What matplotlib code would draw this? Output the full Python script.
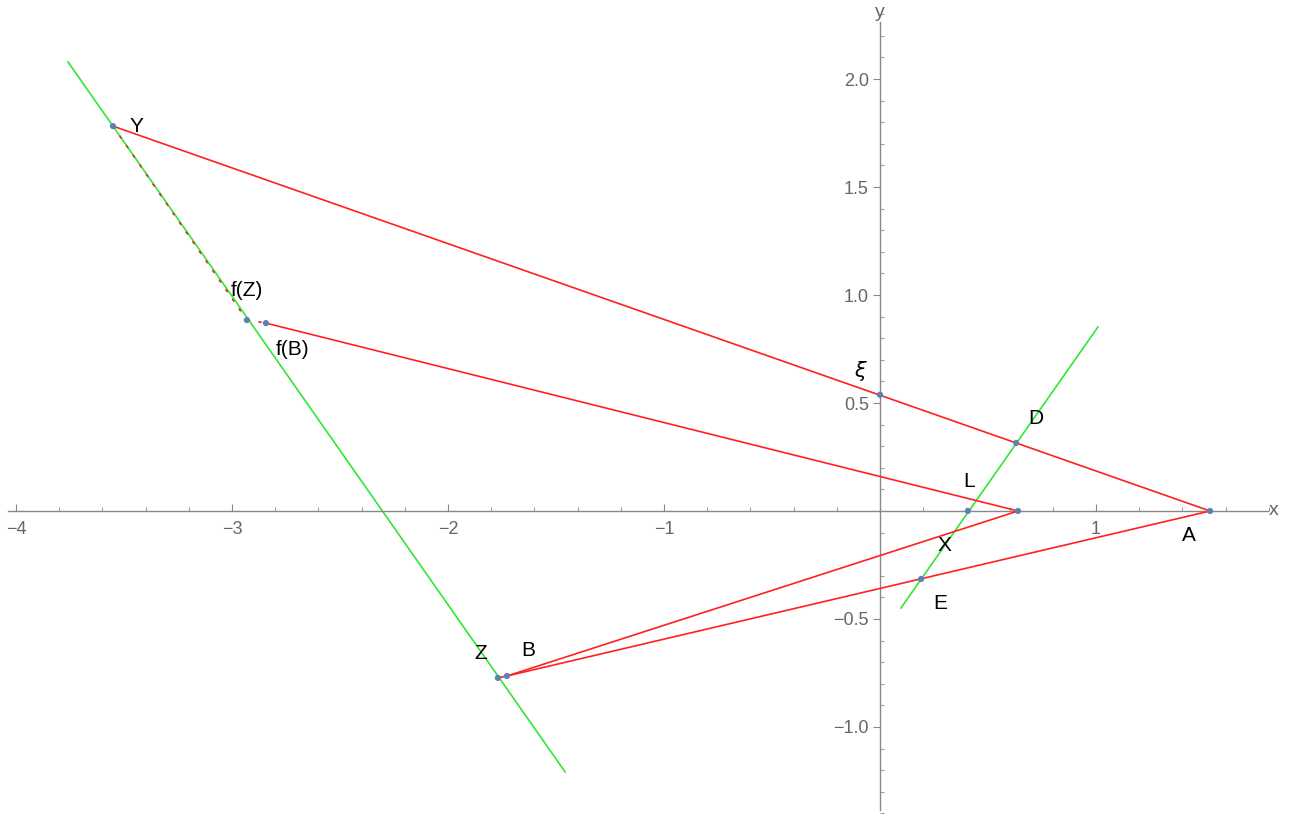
import numpy as np
import matplotlib.pyplot as plt
from matplotlib.ticker import MultipleLocator, FixedLocator

plt.rcParams['font.family'] = ['Liberation Sans', 'DejaVu Sans']

# points (data coordinates)
names = ["Y", "A", "B", "Z", "fZ", "fB", "P", "L", "D", "E", "xi"]
px = [-3.551, 1.528, -1.727, -1.769, -2.931, -2.843, 0.639, 0.407, 0.630, 0.190, 0.0]
py = [1.782, 0.0, -0.764, -0.773, 0.884, 0.870, 0.0, 0.0, 0.315, -0.315, 0.538]
pts = dict(zip(names, zip(px, py)))

# green lines (end points)
green1_x = [-3.759, -1.458]
green1_y = [2.079, -1.208]
green2_x = [0.097, 1.009]
green2_y = [-0.449, 0.852]

# red segments
red_segments = [("Y", "A"), ("A", "B"), ("B", "P"), ("P", "fB"), ("Z", "B")]
red_dashed = [("Y", "fZ"), ("fZ", "fB")]

# labels: text, x, y
label_text = ["Y", "f(Z)", "f(B)", r"$\xi$", "D", "L", "X", "A", "E", "Z", "B"]
label_x = [-3.44, -2.93, -2.72, -0.09, 0.72, 0.41, 0.30, 1.43, 0.28, -1.85, -1.63]
label_y = [1.78, 1.02, 0.75, 0.65, 0.43, 0.135, -0.16, -0.115, -0.43, -0.66, -0.645]

xticks_major = [-4, -3, -2, -1, 1]
yticks_major = [-1.0, -0.5, 0.5, 1.0, 1.5, 2.0]

fig = plt.figure(figsize=(13.01, 8.14), dpi=100)
ax = fig.add_axes([0, 0, 1, 1])
ax.set_xlim(-4.074, 1.949)
ax.set_ylim(-1.403, 2.366)

# axes through origin
for s in ["top", "right"]:
    ax.spines[s].set_visible(False)
ax.spines["left"].set_position(("data", 0))
ax.spines["bottom"].set_position(("data", 0))
ax.spines["bottom"].set_bounds(-4.037, 1.796)
ax.spines["left"].set_bounds(-1.384, 2.264)
for s in ["left", "bottom"]:
    ax.spines[s].set_color("#888888")
    ax.spines[s].set_linewidth(1.0)
ax.patch.set_alpha(0)

ax.xaxis.set_major_locator(FixedLocator(xticks_major))
ax.xaxis.set_minor_locator(MultipleLocator(0.2))
ax.yaxis.set_major_locator(FixedLocator(yticks_major))
ax.yaxis.set_minor_locator(MultipleLocator(0.1))
ax.set_xticklabels([f"\u2212{abs(v)}" if v < 0 else str(v) for v in xticks_major])
ax.set_yticklabels([f"\u2212{abs(v):.1f}" if v < 0 else f"{v:.1f}" for v in yticks_major])
ax.tick_params(axis="x", which="major", direction="in", length=5, width=0.8, color="#888888",
               labelsize=13, labelcolor="#666666", pad=7)
ax.tick_params(axis="x", which="minor", direction="in", length=3, width=0.6, color="#888888")
ax.tick_params(axis="y", which="major", direction="out", length=5, width=0.8, color="#888888",
               labelsize=13, labelcolor="#666666", pad=3)
ax.tick_params(axis="y", which="minor", direction="in", length=3, width=0.6, color="#888888")

ax.text(1.80, 0, "x", fontsize=14, color="#666666", ha="left", va="center")
ax.text(0, 2.27, "y", fontsize=14, color="#666666", ha="center", va="bottom")

# green lines
ax.plot(green1_x, green1_y, color="#33e633", lw=1.2, zorder=2)
ax.plot(green2_x, green2_y, color="#33e633", lw=1.2, zorder=2)

# red segments
for a, b in red_segments:
    ax.plot([pts[a][0], pts[b][0]], [pts[a][1], pts[b][1]], color="#ff2020", lw=1.2, zorder=3)
for a, b in red_dashed:
    ax.plot([pts[a][0], pts[b][0]], [pts[a][1], pts[b][1]], color="#e02a20", lw=1.2,
            dashes=(2, 5), zorder=3)

# points
ax.scatter(px, py, s=20, color="#5e81b5", zorder=4, edgecolors="none")

for t, x, y in zip(label_text, label_x, label_y):
    ax.text(x, y, t, fontsize=15, color="black", ha="center", va="center", zorder=5)

plt.savefig("out.png", dpi=100)
